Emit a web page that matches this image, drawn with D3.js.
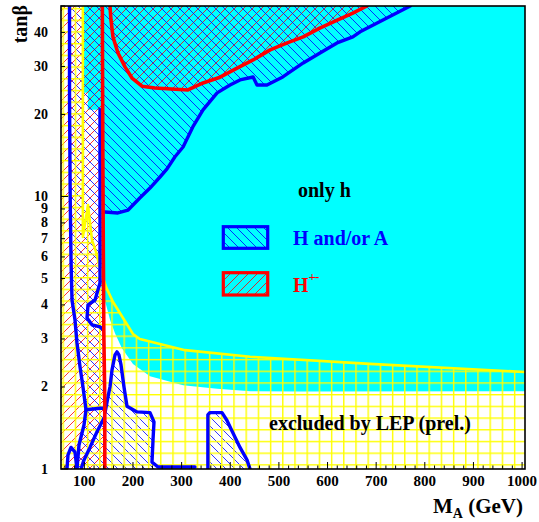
<!DOCTYPE html>
<html><head><meta charset="utf-8">
<script src="https://cdn.jsdelivr.net/npm/d3@7"></script>
<style>
html,body{margin:0;padding:0;background:#fff;}
svg{display:block;}
text{font-family:"Liberation Serif","Times New Roman",serif;font-weight:bold;}
</style></head><body>
<svg id="chart" width="539" height="522"></svg>
<script>
// Axis ticks
const xTickLabels = [100, 200, 300, 400, 500, 600, 700, 800, 900, 1000];
const yTickLabels = [1, 2, 3, 4, 5, 6, 7, 8, 9, 10, 20, 30, 40];

// Contours in (M_A [GeV], tan beta)
// region where only h is observable
const onlyHRegion = [[97,50],[1006,50],[1006,1.93],[543,1.925],[441,1.93],[373,1.97],[303,2.03],[235,2.19],[200,2.43],[177,2.78],[163,3.15],[153,3.52],[142,4.17],[134,4.73],[132,20.8],[107,20.8],[107,24],[97,24]];
// LEP (prel.) exclusion boundary
const lepBoundary = [[97,50],[97,7.1],[107.5,9.31],[115.7,6.92],[124,6.26],[132,5.47],[144.5,4.66],[159,4.10],[179.5,3.58],[200,3.13],[214,3.0],[307,2.73],[441,2.58],[687,2.43],[1006,2.27]];
// charged Higgs contours
const hChargedEdge = [[137,50],[138,15],[139,6.4],[140,3.2],[142,1.8],[142,1]];
const hChargedTop = [[152.7,50],[154.8,44.4],[158.9,38.5],[169.2,33.6],[183.6,29.9],[198,27.2],[218.5,25.4],[245,25.0],[313,24.6],[344,26.1],[379,27.4],[414,29.6],[447,31.7],[482,34.5],[517,36.6],[550,38.5],[584,41.5],[620,44.4],[652,47.1],[681,50]];
// H and/or A contours
const haUpper = [[142.5,8.77],[169,8.70],[190,8.92],[214,9.87],[235,10.74],[255.5,11.79],[270,12.62],[286,13.96],[303,15.19],[323,17.99],[344,20.8],[373,24.0],[399.5,25.66],[420,26.77],[447,27.45],[455,25.66],[475.5,25.66],[508,27.45],[550,30.9],[584.5,33.6],[619.5,36.6],[652,38.5],[667,40.2],[702,43.3],[735,46.4],[770,50]];
const haLeftEdge = [[69.5,50],[69.5,22.6],[71,9.71],[72.6,5.85],[74.6,4.17],[80.8,3.52],[84.9,2.90],[91.1,2.37],[97.2,2.0],[103.4,1.65],[99.3,1.45],[89,1.225],[84.9,1.0]];
const haInnerEdge = [[132.2,20.8],[132.2,4.82],[122,4.17],[107.5,4.0],[105.5,3.58],[115.7,3.38],[132.2,3.32],[138.4,3.24]];
const haShelf = [[103.4,1.65],[132,1.67],[140,1.67]];
const haBottomDiag = [[140.4,1.54],[126,1.37],[111.6,1.20],[99.3,1.08],[93.1,1.0]];
const haSmallLoop = [[64.3,1.0],[66.4,1.126],[72.6,1.20],[80.8,1.154],[84.9,1.0]];
const haLowBlob = [[142.5,1.61],[148.6,1.84],[152.7,2.0],[156.9,2.31],[163,2.62],[167.1,2.69],[171.2,2.62],[175.4,2.41],[181.5,2.0],[187.7,1.70],[208.3,1.62],[235,1.61],[243.2,1.49],[241.2,1.28],[239.1,1.06],[251.4,1.017],[327.5,1.017]];
const haLowBlob2 = [[354,1.0],[354,1.58],[358,1.61],[383,1.61],[393,1.51],[405.6,1.356],[420,1.20],[434.4,1.08],[440.6,1.0]];

const M_MIN = 52, M_MAX = 1006, T_MIN = 1, T_MAX = 50;
const plot = {left: 61, right: 525, top: 6, bottom: 469};

const x = d3.scaleLinear().domain([M_MIN, M_MAX]).range([plot.left, plot.right]);
const y = d3.scaleLog().domain([T_MIN, T_MAX]).range([plot.bottom, plot.top]);
const line = d3.line().x(d => x(d[0])).y(d => y(d[1]));
const area = pts => line(pts) + "Z";

const svg = d3.select("#chart");
const defs = svg.append("defs");
defs.append("clipPath").attr("id", "plotClip").append("rect")
  .attr("x", plot.left).attr("y", plot.top)
  .attr("width", plot.right - plot.left).attr("height", plot.bottom - plot.top);

// diagonal hatching, "\" when back is true, "/" otherwise
function hatch(id, color, back) {
  const s = 9;
  const p = defs.append("pattern").attr("id", id)
    .attr("patternUnits", "userSpaceOnUse").attr("width", s).attr("height", s);
  const d = back
    ? `M${-s/2},${s/2} L${s/2},${1.5*s} M0,0 L${s},${s} M${s/2},${-s/2} L${1.5*s},${s/2}`
    : `M${-s/2},${s/2} L${s/2},${-s/2} M0,${s} L${s},0 M${s/2},${1.5*s} L${1.5*s},${s/2}`;
  p.append("path").attr("d", d).attr("stroke", color)
    .attr("stroke-width", 1).attr("stroke-opacity", 0.8).attr("fill", "none");
}
hatch("hatchBlue", "#0000ff", true);
hatch("hatchRed", "#ff0000", false);

const grid = defs.append("pattern").attr("id", "lepGrid")
  .attr("patternUnits", "userSpaceOnUse")
  .attr("x", 62.5).attr("y", -3.8).attr("width", 12.2).attr("height", 11.7);
grid.append("rect").attr("width", 1.4).attr("height", 11.7).attr("fill", "#ffff00");
grid.append("rect").attr("width", 12.2).attr("height", 1.4).attr("fill", "#ffff00");

const g = svg.append("g").attr("clip-path", "url(#plotClip)");

// background
g.append("rect").attr("x", plot.left).attr("y", plot.top)
  .attr("width", plot.right - plot.left).attr("height", plot.bottom - plot.top)
  .attr("fill", "#fff");

// only h
g.append("path").attr("d", area(onlyHRegion)).attr("fill", "#00ffff");

// H+- hatched regions
const redLeft = [[M_MIN, T_MAX], ...hChargedEdge, [M_MIN, T_MIN]];
g.append("path").attr("d", area(redLeft)).attr("fill", "url(#hatchRed)");
g.append("path").attr("d", area(hChargedTop)).attr("fill", "url(#hatchRed)");

// H/A hatched regions
const blueUpper = [[139, haUpper[0][1]], ...haUpper, [139, T_MAX]];
g.append("path").attr("d", area(blueUpper)).attr("fill", "url(#hatchBlue)");
const lastBlob = haLowBlob[haLowBlob.length - 1];
const blueLow = [...haLeftEdge, [haLeftEdge[haLeftEdge.length - 1][0], T_MIN],
  [lastBlob[0], T_MIN], ...haLowBlob.slice().reverse(), [140, haLowBlob[0][1]], [140, T_MAX]];
g.append("path").attr("d", area(blueLow)).attr("fill", "url(#hatchBlue)");
g.append("path").attr("d", area(haLowBlob2)).attr("fill", "url(#hatchBlue)");

// LEP excluded grid
const lepRegion = [[M_MIN, T_MAX], ...lepBoundary, [M_MAX, T_MIN], [M_MIN, T_MIN]];
g.append("path").attr("d", area(lepRegion)).attr("fill", "url(#lepGrid)");
g.append("path").attr("d", line(lepBoundary)).attr("fill", "none")
  .attr("stroke", "#ffff00").attr("stroke-width", 2.6).attr("stroke-linejoin", "round");

// H/A contour lines
[haUpper, haLeftEdge, haInnerEdge, haShelf, haBottomDiag, haSmallLoop, haLowBlob, haLowBlob2]
  .forEach(c => g.append("path").attr("d", line(c)).attr("fill", "none")
    .attr("stroke", "#0000ff").attr("stroke-width", 3.4)
    .attr("stroke-linejoin", "round").attr("stroke-linecap", "round"));

// H+- contour lines
[hChargedEdge, hChargedTop]
  .forEach(c => g.append("path").attr("d", line(c)).attr("fill", "none")
    .attr("stroke", "#ff0000").attr("stroke-width", 3.6)
    .attr("stroke-linejoin", "round").attr("stroke-linecap", "round"));

// frame
svg.append("rect").attr("x", plot.left).attr("y", plot.top)
  .attr("width", plot.right - plot.left).attr("height", plot.bottom - plot.top)
  .attr("fill", "none").attr("stroke", "#000").attr("stroke-width", 1.6);

// x ticks
const xMinor = d3.range(60, 1001, 20);
svg.append("g").selectAll("line").data(xMinor).join("line")
  .attr("x1", d => x(d)).attr("x2", d => x(d))
  .attr("y1", plot.bottom).attr("y2", d => plot.bottom - (d % 100 === 0 ? 7 : 3.5))
  .attr("stroke", "#000").attr("stroke-width", 1);
svg.append("g").selectAll("text").data(xTickLabels).join("text")
  .attr("x", d => x(d)).attr("y", 486).attr("text-anchor", "middle")
  .attr("font-size", 15).text(d => d);

// y ticks
const yMinor = [1,2,3,4,5,6,7,8,9,10,20,30,40,50];
svg.append("g").selectAll("line").data(yMinor).join("line")
  .attr("x1", plot.left).attr("x2", d => plot.left + (d === 1 || d === 10 ? 7 : 4))
  .attr("y1", d => y(d)).attr("y2", d => y(d))
  .attr("stroke", "#000").attr("stroke-width", 1);
svg.append("g").selectAll("text").data(yTickLabels).join("text")
  .attr("x", 48).attr("y", d => y(d) + 4.5).attr("text-anchor", "end")
  .attr("font-size", 14).text(d => d);

// axis titles
svg.append("text").attr("transform", "translate(27,5) rotate(-90)")
  .attr("text-anchor", "end").attr("font-size", 20).text("tanβ");
const xt = svg.append("text").attr("x", 433).attr("y", 513).attr("font-size", 21);
xt.append("tspan").text("M");
xt.append("tspan").attr("font-size", 14).attr("dy", 5).text("A");
xt.append("tspan").attr("dy", -5).text(" (GeV)");

// legend
svg.append("text").attr("x", 298).attr("y", 197).attr("font-size", 20).attr("fill", "#000").text("only h");
svg.append("rect").attr("x", 223.3).attr("y", 226.7).attr("width", 44.4).attr("height", 21.6)
  .attr("fill", "#00ffff");
svg.append("rect").attr("x", 223.3).attr("y", 226.7).attr("width", 44.4).attr("height", 21.6)
  .attr("fill", "url(#hatchBlue)").attr("stroke", "#0000ff").attr("stroke-width", 3.2);
svg.append("text").attr("x", 293).attr("y", 245).attr("font-size", 20).attr("fill", "#0000ff").text("H and/or A");
svg.append("rect").attr("x", 223.3).attr("y", 272.7).attr("width", 44.4).attr("height", 22.3)
  .attr("fill", "#00ffff");
svg.append("rect").attr("x", 223.3).attr("y", 272.7).attr("width", 44.4).attr("height", 22.3)
  .attr("fill", "url(#hatchRed)").attr("stroke", "#ff0000").attr("stroke-width", 3.2);
const hc = svg.append("text").attr("x", 293).attr("y", 291.5).attr("font-size", 20).attr("fill", "#ff0000");
hc.append("tspan").text("H");
hc.append("tspan").attr("font-size", 13).attr("dy", -11).attr("letter-spacing", -1).text("+-");

svg.append("text").attr("x", 269).attr("y", 430).attr("font-size", 20).attr("fill", "#000")
  .text("excluded by LEP (prel.)");
</script>
</body></html>
